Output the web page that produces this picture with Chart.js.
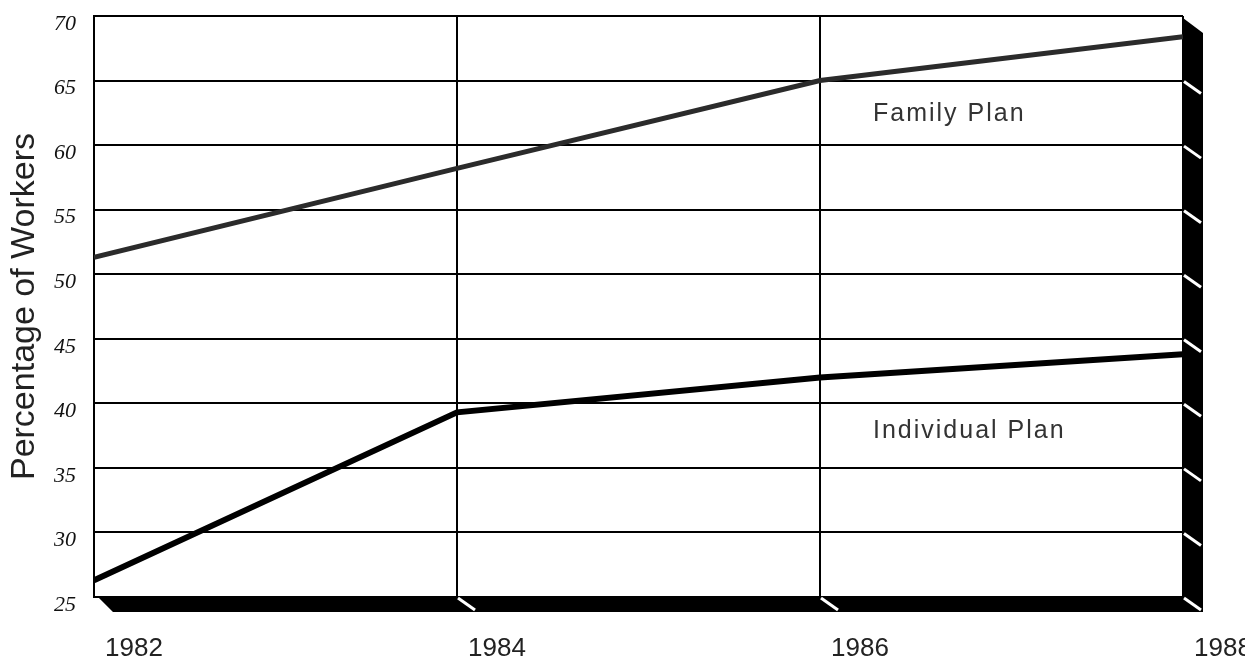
<!DOCTYPE html>
<html>
<head>
<meta charset="utf-8">
<script src="https://cdn.jsdelivr.net/npm/chart.js@4/dist/chart.umd.min.js"></script>
<style>
  html, body { margin: 0; padding: 0; background: #ffffff; }
  canvas { display: block; }
</style>
</head>
<body>
<canvas id="chart" width="1245" height="658"></canvas>
<script>
// Share of workers covered, by plan type
const years = [1982, 1984, 1986, 1988];
const familyPlan = [51.3, 58.2, 65.0, 68.4];
const individualPlan = [26.3, 39.3, 42.0, 43.8];
const yTickLabels = ['25', '30', '35', '40', '45', '50', '55', '60', '65', '70'];
const xTickLabels = ['1982', '1984', '1986', '1988'];

const toPoints = (vals) => years.map((yr, i) => ({ x: yr, y: vals[i] }));

// Heavy black "3D" base along the bottom and right side, plus the series captions
const framePlugin = {
  id: 'frame',
  afterDatasetsDraw(chart) {
    const { ctx, chartArea: a, scales: { x, y } } = chart;
    const d = 20, h = 15;
    ctx.save();
    ctx.fillStyle = '#000';
    ctx.beginPath();
    ctx.moveTo(a.left + 4, a.bottom);
    ctx.lineTo(a.right, a.bottom);
    ctx.lineTo(a.right, a.top + 2);
    ctx.lineTo(a.right + d, a.top + 2 + h);
    ctx.lineTo(a.right + d, a.bottom + h);
    ctx.lineTo(a.left + 19, a.bottom + h);
    ctx.closePath();
    ctx.fill();

    // white bevel strokes where grid lines meet the base
    ctx.strokeStyle = '#fff';
    ctx.lineWidth = 3;
    ctx.lineCap = 'butt';
    y.ticks.forEach((t) => {
      if (t.value >= 70) return;
      const py = y.getPixelForValue(t.value);
      ctx.beginPath();
      ctx.moveTo(a.right + 1, py + 1);
      ctx.lineTo(a.right + d - 2, py + h - 2);
      ctx.stroke();
    });
    x.ticks.forEach((t) => {
      if (t.value <= years[0] || t.value >= years[years.length - 1]) return;
      const px = x.getPixelForValue(t.value);
      ctx.beginPath();
      ctx.moveTo(px + 1, a.bottom + 1);
      ctx.lineTo(px + d - 2, a.bottom + h - 2);
      ctx.stroke();
    });

    // captions
    ctx.fillStyle = '#333';
    ctx.font = '25px "Liberation Sans", Arial, sans-serif';
    ctx.letterSpacing = '2px';
    ctx.textBaseline = 'middle';
    ctx.textAlign = 'left';
    ctx.fillText('Family Plan', a.right - 310, y.getPixelForValue(62.5) + 1);
    ctx.fillText('Individual Plan', a.right - 310, y.getPixelForValue(37.5) - 5);
    ctx.restore();
  }
};

new Chart(document.getElementById('chart'), {
  type: 'line',
  data: {
    datasets: [
      {
        label: 'Family Plan',
        data: toPoints(familyPlan),
        borderColor: '#2b2b2b',
        borderWidth: 5,
        pointRadius: 0,
        tension: 0,
        fill: false
      },
      {
        label: 'Individual Plan',
        data: toPoints(individualPlan),
        borderColor: '#000',
        borderWidth: 6,
        pointRadius: 0,
        tension: 0,
        fill: false
      }
    ]
  },
  options: {
    responsive: false,
    animation: false,
    layout: { padding: { top: 16, right: 62, left: 0, bottom: 0 } },
    plugins: { legend: { display: false }, tooltip: { enabled: false } },
    scales: {
      x: {
        type: 'linear',
        min: 1982,
        max: 1988,
        afterBuildTicks(scale) {
          scale.ticks = years.map((v) => ({ value: v }));
        },
        afterFit(scale) {
          scale.height = 61;
          scale.paddingLeft = 0;
          scale.paddingRight = 0;
        },
        grid: { color: '#000', lineWidth: 2, drawTicks: false },
        border: { display: false },
        ticks: {
          padding: 36,
          labelOffset: 40,
          maxRotation: 0,
          color: '#222',
          font: { family: '"Liberation Sans", Arial, sans-serif', size: 26 },
          callback: (v) => xTickLabels[years.indexOf(v)]
        }
      },
      y: {
        min: 25,
        max: 70,
        afterBuildTicks(scale) {
          scale.ticks = yTickLabels.map((s) => ({ value: Number(s) }));
        },
        afterFit(scale) {
          scale.width = 94;
          scale.paddingTop = 0;
          scale.paddingBottom = 0;
        },
        grid: { color: '#000', lineWidth: 2, drawTicks: false },
        border: { display: true, color: '#000', width: 2 },
        ticks: {
          padding: 18,
          labelOffset: 8,
          color: '#111',
          font: { family: '"Liberation Serif", serif', size: 22, style: 'italic' },
          callback: (v) => yTickLabels[yTickLabels.indexOf(String(v))]
        },
        title: {
          display: true,
          text: 'Percentage of Workers',
          color: '#222',
          padding: { top: 4, bottom: 0 },
          font: { family: '"Liberation Sans", Arial, sans-serif', size: 34 }
        }
      }
    }
  },
  plugins: [framePlugin]
});
</script>
</body>
</html>
